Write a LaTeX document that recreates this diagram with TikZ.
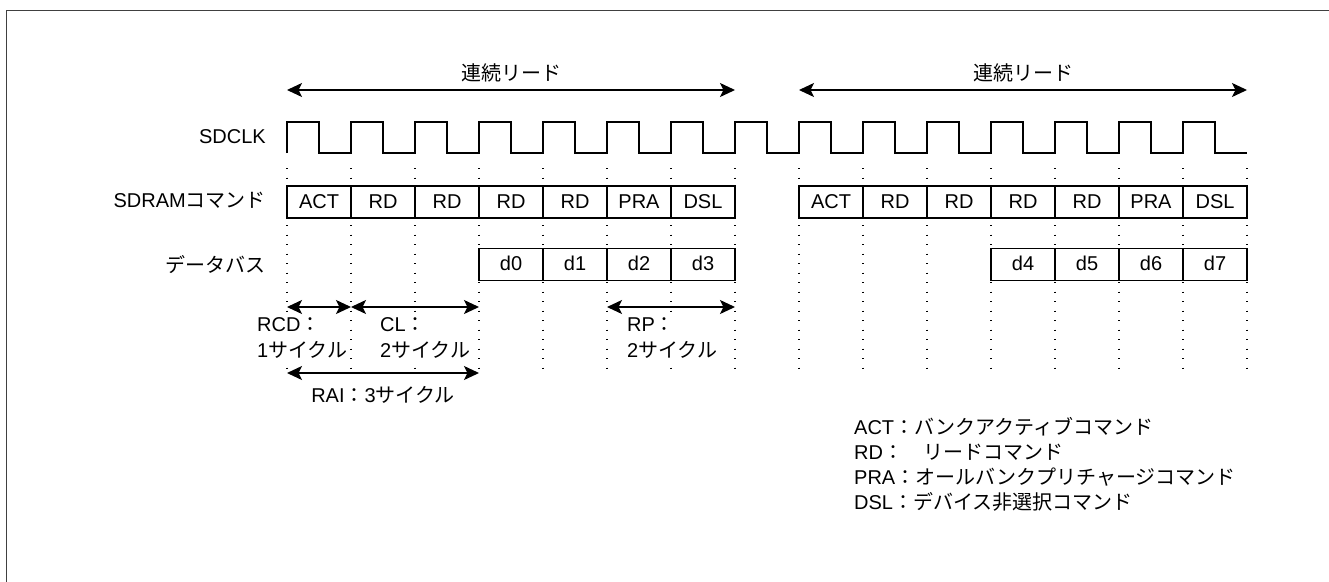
\documentclass[tikz,border=0pt]{standalone}
\usepackage{fontspec}
\setmainfont{Liberation Sans}
\newfontfamily\jp{Noto Sans CJK JP}
\usetikzlibrary{arrows.meta}
\newcommand{\st}{\rule[-2.7pt]{0pt}{17.5pt}}
\tikzset{
  lbl/.style={font=\fontsize{20pt}{26pt}\selectfont, inner sep=0pt},
  cell/.style={draw, line width=1.3pt, fill=white, minimum width=64pt, minimum height=32pt, inner sep=0pt, font=\fontsize{20pt}{26pt}\selectfont},
  wave/.style={line width=1.4pt, line join=miter},
  guide/.style={line width=1.3pt, dash pattern=on 1.3pt off 8.2pt},
  dim/.style={line width=1.5pt, {Stealth[length=15pt,width=14pt,inset=3.5pt]}-{Stealth[length=15pt,width=14pt,inset=3.5pt]}},
  tag/.style={lbl, fill=white, inner sep=1pt, align=left},
}
\begin{document}
\begin{tikzpicture}[x=1pt,y=-1pt]
\useasboundingbox (0,0) rectangle (1329,581);
\clip (0,0) rectangle (1329,581);
\fill[white] (0,0) rectangle (1329,581);
\draw[line width=1.3pt, draw=black!75] (6.5,10.5) rectangle (1345,600);
% guide lines
\foreach \i in {0,...,15} {
  \coordinate (t\i) at ({287+64*\i},168);
  \coordinate (m\i) at ({287+64*\i},307);
  \coordinate (b\i) at ({287+64*\i},373);
  \draw[guide] (t\i) -- (b\i);
}
% clock
\draw[wave] (287,153) \foreach \i in {1,...,15} { -- ++(0,-31) -- ++(32,0) -- ++(0,31) -- ++(32,0) };
% commands
\foreach \lab [count=\i from 0] in {ACT,RD,RD,RD,RD,PRA,DSL} {
  \node[cell] (ca\i) at ({319+64*\i},202) {\st\lab};
  \node[cell] (cb\i) at ({831+64*\i},202) {\st\lab};
}
% data
\foreach \lab [count=\i from 0] in {d0,d1,d2,d3}
  \node[cell] (da\i) at ({511+64*\i},264.5) {\st\lab};
\foreach \lab [count=\i from 0] in {d4,d5,d6,d7}
  \node[cell] (db\i) at ({1023+64*\i},264.5) {\st\lab};
% row labels
\node[lbl, anchor=east] (nclk) at (266,137) {\st SDCLK};
\node[lbl, anchor=east] (ncmd) at (266,201) {\st SDRAM{\jp コマンド}};
\node[lbl, anchor=east] (ndat) at (266,265) {\st {\jp データバス}};
% long arrows
\coordinate (la) at (287,90); \coordinate (lb) at (735,90);
\coordinate (lc) at (799,90); \coordinate (ld) at (1247,90);
\draw[dim] (la) -- (lb);
\draw[dim] (lc) -- (ld);
\node[lbl] (r1) at (511,73) {\st {\jp 連続リード}};
\node[lbl] (r2) at (1023,73) {\st {\jp 連続リード}};
% timing arrows
\draw[dim] (m0) -- (m1);
\draw[dim] (m1) -- (m3);
\draw[dim] (m5) -- (m7);
\draw[dim] (b0) -- (b3);
\node[tag, anchor=west] (rcd) at (256,338) {\st RCD{\jp ：}\\\st 1{\jp サイクル}};
\node[tag, anchor=west] (cl) at (379,338) {\st CL{\jp ：}\\\st 2{\jp サイクル}};
\node[tag, anchor=west] (rp) at (626,338) {\st RP{\jp ：}\\\st 2{\jp サイクル}};
\node[lbl] (rai) at (383,396) {\st RAI{\jp ：}3{\jp サイクル}};
% legend
\node[lbl, align=left, anchor=west, font=\fontsize{20pt}{25pt}\selectfont] (legend) at (854,464.5)
  {\st ACT{\jp ：バンクアクティブコマンド}\\
   \st RD{\jp ：　リードコマンド}\\
   \st PRA{\jp ：オールバンクプリチャージコマンド}\\
   \st DSL{\jp ：デバイス非選択コマンド}};
\end{tikzpicture}
\end{document}
